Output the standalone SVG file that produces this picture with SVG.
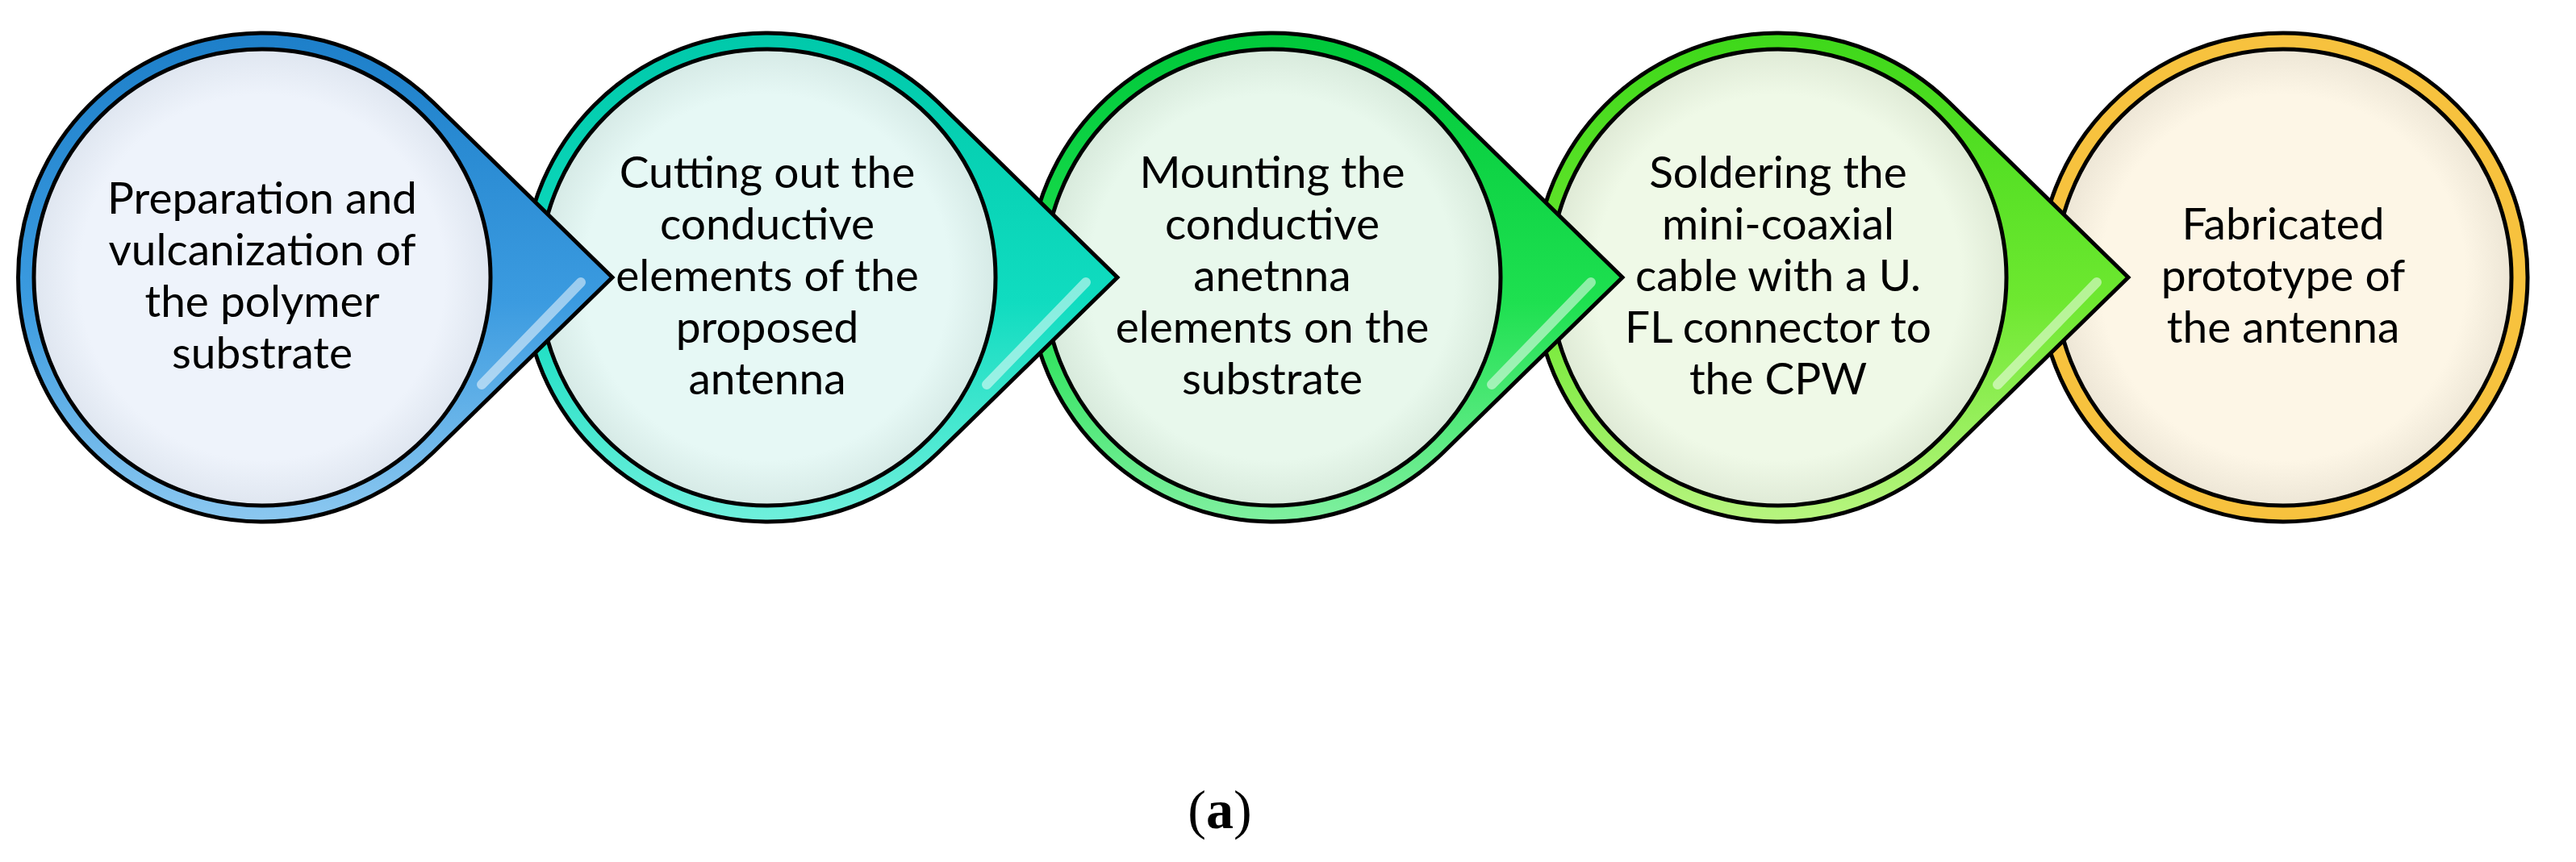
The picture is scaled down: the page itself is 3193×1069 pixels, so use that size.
<svg xmlns="http://www.w3.org/2000/svg" width="3193" height="1069" viewBox="0 0 3193 1069">
<style>
.band{stroke:#000;stroke-width:5}
.inner{stroke:#000;stroke-width:5}
.lbl{font-family:Lato,"Open Sans",sans-serif;font-size:55px;fill:#000;text-anchor:middle}
.hl{stroke:#fff;stroke-width:12;stroke-linecap:round;opacity:0.5;fill:none}
</style>
<defs>
<path id="drop" d="M212,-217 L434,0 L212,217 A303,303 0 1 1 212,-217 Z"/>
<linearGradient id="gb" x1="0" y1="0" x2="0" y2="1"><stop offset="0" stop-color="#1d7fc9"/><stop offset="0.55" stop-color="#3b9be0"/><stop offset="1" stop-color="#8cc8f0"/></linearGradient>
<linearGradient id="gt" x1="0" y1="0" x2="0" y2="1"><stop offset="0" stop-color="#00c9aa"/><stop offset="0.55" stop-color="#10dcc0"/><stop offset="1" stop-color="#70f0dc"/></linearGradient>
<linearGradient id="gg" x1="0" y1="0" x2="0" y2="1"><stop offset="0" stop-color="#00c83a"/><stop offset="0.55" stop-color="#1ee050"/><stop offset="1" stop-color="#80f0a0"/></linearGradient>
<linearGradient id="gl" x1="0" y1="0" x2="0" y2="1"><stop offset="0" stop-color="#3ed81a"/><stop offset="0.55" stop-color="#6ee830"/><stop offset="1" stop-color="#b8f580"/></linearGradient>
<radialGradient id="f1"><stop offset="0.8" stop-color="#eef3fb"/><stop offset="1" stop-color="#dfe6f0"/></radialGradient>
<radialGradient id="f2"><stop offset="0.8" stop-color="#e6f8f5"/><stop offset="1" stop-color="#d6eae6"/></radialGradient>
<radialGradient id="f3"><stop offset="0.8" stop-color="#e8f8ec"/><stop offset="1" stop-color="#d8eadc"/></radialGradient>
<radialGradient id="f4"><stop offset="0.8" stop-color="#eff9e7"/><stop offset="1" stop-color="#dfead6"/></radialGradient>
<radialGradient id="f5"><stop offset="0.8" stop-color="#fdf6e6"/><stop offset="1" stop-color="#ede6d6"/></radialGradient>
</defs>
<rect width="3193" height="1069" fill="#fff"/>
<g id="node5" transform="translate(2830,344)">
<circle r="303" fill="#f7c23e" class="band"/>
<circle r="283" fill="url(#f5)" class="inner"/>
<text class="lbl"><tspan x="0" y="-47">Fabricated</tspan><tspan x="0" y="17">prototype of</tspan><tspan x="0" y="81">the antenna</tspan></text>
</g>
<g id="node4" transform="translate(2204,344)">
<use href="#drop" fill="url(#gl)" class="band"/>
<line x1="395" y1="6" x2="272" y2="133" class="hl" stroke="#f8ffa0"/>
<circle r="283" fill="url(#f4)" class="inner"/>
<text class="lbl"><tspan x="0" y="-111">Soldering the</tspan><tspan x="0" y="-47">mini-coaxial</tspan><tspan x="0" y="17">cable with a U.</tspan><tspan x="0" y="81">FL connector to</tspan><tspan x="0" y="145">the CPW</tspan></text>
</g>
<g id="node3" transform="translate(1577,344)">
<use href="#drop" fill="url(#gg)" class="band"/>
<line x1="395" y1="6" x2="272" y2="133" class="hl"/>
<circle r="283" fill="url(#f3)" class="inner"/>
<text class="lbl"><tspan x="0" y="-111">Mounting the</tspan><tspan x="0" y="-47">conductive</tspan><tspan x="0" y="17">anetnna</tspan><tspan x="0" y="81">elements on the</tspan><tspan x="0" y="145">substrate</tspan></text>
</g>
<g id="node2" transform="translate(951,344)">
<use href="#drop" fill="url(#gt)" class="band"/>
<line x1="395" y1="6" x2="272" y2="133" class="hl"/>
<circle r="283" fill="url(#f2)" class="inner"/>
<text class="lbl"><tspan x="0" y="-111">Cutting out the</tspan><tspan x="0" y="-47">conductive</tspan><tspan x="0" y="17">elements of the</tspan><tspan x="0" y="81">proposed</tspan><tspan x="0" y="145">antenna</tspan></text>
</g>
<g id="node1" transform="translate(325,344)">
<use href="#drop" fill="url(#gb)" class="band"/>
<line x1="395" y1="6" x2="272" y2="133" class="hl"/>
<circle r="283" fill="url(#f1)" class="inner"/>
<text class="lbl"><tspan x="0" y="-79">Preparation and</tspan><tspan x="0" y="-15">vulcanization of</tspan><tspan x="0" y="49">the polymer</tspan><tspan x="0" y="113">substrate</tspan></text>
</g>
<g id="connectors"/>
<text x="1512" y="1027" text-anchor="middle" font-family="'Liberation Serif',serif" font-size="68">(<tspan font-weight="bold">a</tspan>)</text>
</svg>
